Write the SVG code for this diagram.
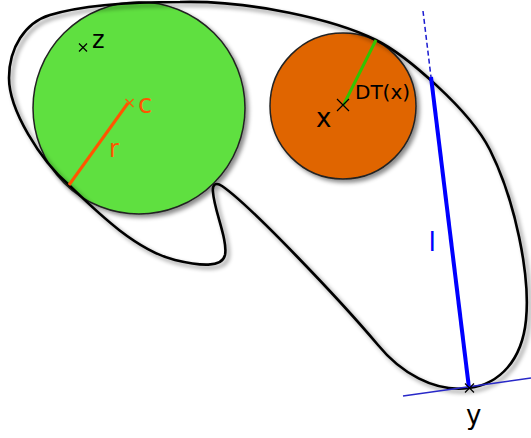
<svg xmlns="http://www.w3.org/2000/svg" width="531" height="438" viewBox="0 0 531 438">
<style>
text{font-family:"DejaVu Sans","Liberation Sans",sans-serif}
.big{font-size:26px}
.mk{stroke-width:1.2;fill:none}
</style>
<defs>
<filter id="sh" x="-10%" y="-10%" width="130%" height="130%">
<feDropShadow dx="3" dy="3" stdDeviation="2.2" flood-color="#000" flood-opacity="0.45"/>
</filter>
</defs>
<rect width="531" height="438" fill="#fff"/>
<g id="green-disc">
<circle cx="139" cy="108" r="106" fill="#5ee040" stroke="#222" stroke-width="1.5" filter="url(#sh)"/>
</g>
<g id="orange-disc">
<circle cx="343" cy="106" r="73" fill="#e06500" stroke="#222" stroke-width="1.5" filter="url(#sh)"/>
</g>
<g id="shape">
<path d="M469,388 C500,384 522,360 526,320 C530.5,275 515,200 490,150 C470,110 406,55 376,40 C336,20 250,0 180,2 C130,2 80,6 50,15 C25,22.5 9,48 9,78 C9,110 40,160 69,185 C95,210 135,250 175,260 C200,266 222,268 225,255 C228,240 214,210 213,192 C212,184 216,182 222,186 C250,205 340,300 378,345 C400,372 434,392.7 469,388 Z" fill="none" stroke="#000" stroke-width="2.6" filter="url(#sh)"/>
</g>
<g id="connectors">
<line x1="128" y1="103" x2="69" y2="185" stroke="#ff5500" stroke-width="3"/>
<line x1="343" y1="106" x2="376" y2="40" stroke="#33c400" stroke-width="3"/>
<line x1="423" y1="11" x2="431" y2="77" stroke="#1a1ad0" stroke-width="1.5" stroke-dasharray="5,3"/>
<line x1="431" y1="77" x2="469" y2="388" stroke="#0000ff" stroke-width="4"/>
<line x1="403" y1="396" x2="531" y2="378" stroke="#2828c8" stroke-width="1.5"/>
</g>
<g id="markers">
<path class="mk" stroke="#000" d="M79,43.5l8,8M87,43.5l-8,8"/>
<path class="mk" stroke="#ff5500" d="M125.5,99l8,8M133.5,99l-8,8"/>
<path class="mk" stroke="#000" d="M337,99l12,12M349,99l-12,12"/>
<path class="mk" stroke="#000" d="M465,383.5l9,9M474,383.5l-9,9"/>
</g>
<g id="labels">
<text x="92" y="48" font-size="24" fill="#000">z</text>
<text x="138" y="113" class="big" fill="#ff5500">c</text>
<text x="109" y="157" font-size="24" fill="#ff5500">r</text>
<text x="316" y="127" class="big" fill="#000">x</text>
<text x="355" y="99" font-size="20" fill="#000">DT(x)</text>
<text x="428.5" y="251" font-size="27" fill="#0000ff">l</text>
<text x="466" y="424" class="big" fill="#000">y</text>
</g>
</svg>
